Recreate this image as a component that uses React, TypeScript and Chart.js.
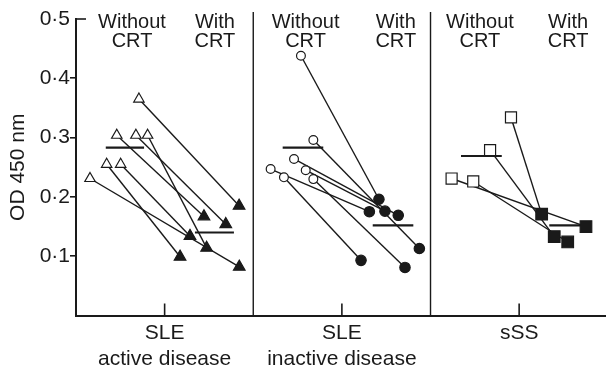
import React, { useEffect, useRef } from "react";
import { Chart, registerables } from "chart.js";

Chart.register(...registerables);

// Category axis
const groupLabels = [["SLE", "active disease"], ["SLE", "inactive disease"], ["sSS"]];
const groupTickValues = [0.5, 1.5, 2.5];
const separatorValues = [1, 2];
const yTickValues = [0.1, 0.2, 0.3, 0.4, 0.5];

// Column headings (x position within each panel)
const headerLine1 = ["Without", "With", "Without", "With", "Without", "With"];
const headerX = [0.316, 0.784, 1.295, 1.804, 2.279, 2.776];

// SLE active disease (pairs by index)
const activeWithoutX = [0.355, 0.230, 0.338, 0.404, 0.173, 0.252, 0.079];
const activeWithoutY = [0.365, 0.304, 0.304, 0.304, 0.255, 0.255, 0.231];
const activeWithX = [0.920, 0.722, 0.845, 0.737, 0.587, 0.643, 0.921];
const activeWithY = [0.185, 0.167, 0.154, 0.114, 0.099, 0.134, 0.082];

// SLE inactive disease
const inactiveWithoutX = [1.269, 1.339, 1.230, 1.098, 1.296, 1.173, 1.339];
const inactiveWithoutY = [0.438, 0.296, 0.264, 0.247, 0.245, 0.233, 0.230];
const inactiveWithX = [1.709, 1.937, 1.818, 1.655, 1.743, 1.608, 1.856];
const inactiveWithY = [0.196, 0.113, 0.169, 0.175, 0.176, 0.093, 0.081];

// sSS
const sssWithoutX = [2.454, 2.336, 2.119, 2.241];
const sssWithoutY = [0.334, 0.279, 0.231, 0.226];
const sssWithX = [2.627, 2.698, 2.877, 2.774];
const sssWithY = [0.171, 0.133, 0.150, 0.124];

// Mean bars
const meanWithoutStart = [0.168, 1.166, 2.172];
const meanWithoutEnd = [0.384, 1.395, 2.402];
const meanWithoutY = [0.283, 0.283, 0.269];
const meanWithStart = [0.671, 1.674, 2.670];
const meanWithEnd = [0.891, 1.903, 2.905];
const meanWithY = [0.140, 0.152, 0.152];

const INK = "#1a1a1a";
const FONT = '"Liberation Sans", Arial, sans-serif';

const pts = (xs: number[], ys: number[]) => xs.map((x, i) => ({ x, y: ys[i] }));

function pairLines(wx: number[], wy: number[], cx: number[], cy: number[]) {
  return wx.map((x, i) => ({
    type: "line" as const,
    data: [{ x, y: wy[i] }, { x: cx[i], y: cy[i] }],
    showLine: true,
    borderColor: INK,
    borderWidth: 1.4,
    pointRadius: 0,
    order: 2,
  }));
}

function markers(xs: number[], ys: number[], style: string, filled: boolean, radius: number) {
  return {
    type: "scatter" as const,
    data: pts(xs, ys),
    showLine: false,
    pointStyle: style,
    pointRadius: radius,
    pointBackgroundColor: filled ? INK : "#ffffff",
    pointBorderColor: INK,
    pointBorderWidth: 1.2,
    order: 1,
  };
}

function meanBars(starts: number[], ends: number[], ys: number[]) {
  return starts.map((s, i) => ({
    type: "line" as const,
    data: [{ x: s, y: ys[i] }, { x: ends[i], y: ys[i] }],
    showLine: true,
    borderColor: INK,
    borderWidth: 2.2,
    pointRadius: 0,
    order: 3,
  }));
}

const decor = {
  id: "decor",
  beforeDatasetsDraw(chart: any) {
    const { ctx, chartArea, scales } = chart;
    const x = scales.x;
    const y = scales.y;
    ctx.save();
    ctx.strokeStyle = INK;
    const line = (x1: number, y1: number, x2: number, y2: number) => {
      ctx.beginPath();
      ctx.moveTo(x1, y1);
      ctx.lineTo(x2, y2);
      ctx.stroke();
    };
    ctx.lineWidth = 1.4;
    for (const s of separatorValues) {
      const px = x.getPixelForValue(s);
      line(px, 12, px, chartArea.bottom);
    }
    ctx.lineWidth = 1.6;
    for (const t of groupTickValues) {
      const px = x.getPixelForValue(t);
      line(px, chartArea.bottom - 12, px, chartArea.bottom);
    }
    const topY = y.getPixelForValue(0.5);
    line(chartArea.left - 0.5, topY, chartArea.left + 10, topY);

    ctx.fillStyle = INK;
    ctx.font = `20px ${FONT}`;
    ctx.textAlign = "center";
    ctx.textBaseline = "alphabetic";
    headerLine1.forEach((t, i) => {
      const px = x.getPixelForValue(headerX[i]);
      ctx.fillText(t, px, 27.5);
      ctx.fillText("CRT", px, 46.5);
    });
    ctx.restore();
  },
};

export default function App() {
  const ref = useRef<HTMLCanvasElement | null>(null);
  useEffect(() => {
    if (!ref.current) return;
    const datasets: any[] = [
      ...meanBars(meanWithoutStart, meanWithoutEnd, meanWithoutY),
      ...meanBars(meanWithStart, meanWithEnd, meanWithY),
      ...pairLines(activeWithoutX, activeWithoutY, activeWithX, activeWithY),
      ...pairLines(inactiveWithoutX, inactiveWithoutY, inactiveWithX, inactiveWithY),
      ...pairLines(sssWithoutX, sssWithoutY, sssWithX, sssWithY),
      markers(activeWithoutX, activeWithoutY, "triangle", false, 6),
      markers(activeWithX, activeWithY, "triangle", true, 6.7),
      markers(inactiveWithoutX, inactiveWithoutY, "circle", false, 4.4),
      markers(inactiveWithX, inactiveWithY, "circle", true, 5.2),
      markers(sssWithoutX, sssWithoutY, "rect", false, 7.8),
      markers(sssWithX, sssWithY, "rect", true, 8.2),
    ];
    const chart = new Chart(ref.current, {
      type: "scatter",
      data: { datasets },
      plugins: [decor],
      options: {
        animation: false,
        responsive: false,
        devicePixelRatio: 1,
        layout: { autoPadding: false, padding: { top: 19, left: 0, right: 0, bottom: 0 } },
        plugins: { legend: { display: false }, tooltip: { enabled: false } },
        scales: {
          x: {
            type: "linear",
            min: 0,
            max: 2.99,
            afterBuildTicks: (s: any) => {
              s.ticks = groupTickValues.map((v) => ({ value: v }));
            },
            afterFit: (s: any) => {
              s.height = 54.5;
              s.paddingLeft = 0;
              s.paddingRight = 0;
            },
            grid: { display: false, drawTicks: false },
            border: { display: true, color: INK, width: 2 },
            ticks: {
              color: INK,
              padding: 5,
              maxRotation: 0,
              autoSkip: false,
              font: { family: FONT, size: 21, lineHeight: 1.22 },
              callback: (_v: any, i: number) => groupLabels[i],
            },
          },
          y: {
            min: 0,
            max: 0.5,
            afterBuildTicks: (s: any) => {
              s.ticks = yTickValues.map((v) => ({ value: v }));
            },
            afterFit: (s: any) => {
              s.width = 76;
            },
            grid: {
              display: true,
              drawOnChartArea: false,
              drawTicks: true,
              tickLength: 6,
              lineWidth: 1.6,
              color: (c: any) => (c.tick && c.tick.value === 0.5 ? "rgba(0,0,0,0)" : INK),
            },
            border: { display: true, color: INK, width: 2 },
            ticks: {
              color: INK,
              padding: 0,
              font: { family: FONT, size: 21 },
              callback: (v: any) => Number(v).toFixed(1).replace(".", "\u00b7"),
            },
            title: {
              display: true,
              text: "OD 450 nm",
              color: INK,
              font: { family: FONT, size: 21 },
              padding: { top: 6, bottom: 0 },
            },
          },
        },
      },
    });
    return () => chart.destroy();
  }, []);
  return (
    <div style={{ position: "fixed", left: 0, top: 0, width: 606, height: 370, background: "#fff" }}>
      <canvas ref={ref} width={606} height={370} style={{ width: 606, height: 370, display: "block" }} />
    </div>
  );
}
